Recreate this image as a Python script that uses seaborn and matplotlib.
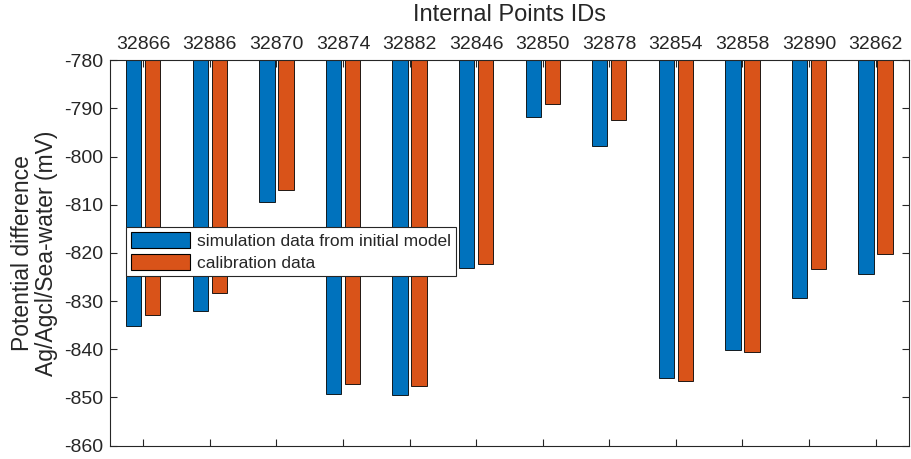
import matplotlib
matplotlib.use("Agg")
import matplotlib.pyplot as plt
import seaborn as sns
import pandas as pd

point_ids = ["32866", "32886", "32870", "32874", "32882", "32846",
             "32850", "32878", "32854", "32858", "32890", "32862"]
simulation = [-835.1, -832.1, -809.4, -849.2, -849.4, -823.2,
              -791.8, -797.8, -846.0, -840.2, -829.3, -824.4]
calibration = [-832.8, -828.3, -807.0, -847.2, -847.6, -822.3,
               -789.1, -792.5, -846.5, -840.6, -823.3, -820.2]
series_names = ["simulation data from initial model", "calibration data"]
colors = ["#0072BD", "#D95319"]
y_ticks = [-780, -790, -800, -810, -820, -830, -840, -850, -860]

df = pd.DataFrame({
    "id": point_ids * 2,
    "value": simulation + calibration,
    "series": [series_names[0]] * len(point_ids) + [series_names[1]] * len(point_ids),
})

sns.set_theme(style="white")
plt.rcParams['font.family'] = ['Liberation Sans', 'DejaVu Sans']
dark = "#262626"

fig = plt.figure(figsize=(9.11, 4.59), dpi=100)
ax = fig.add_axes([0.1207, 0.029, 0.877, 0.840])

sns.barplot(data=df, x="id", y="value", hue="series", order=point_ids,
            hue_order=series_names, palette=colors, saturation=1,
            width=0.57, gap=0.19, edgecolor="black", linewidth=0.6,
            ax=ax, legend=True)

ax.set_xlim(-0.5, len(point_ids) - 0.5)
ax.set_ylim(-860, -780)
ax.set_yticks(y_ticks)
ax.set_yticklabels([str(v) for v in y_ticks])

ax.xaxis.set_label_position('top')
ax.set_xlabel("Internal Points IDs", fontsize=17, color=dark, labelpad=11)
ax.set_ylabel("Potential difference\nAg/Agcl/Sea-water (mV)", fontsize=16.5,
              color=dark, labelpad=4, linespacing=1.05)

ax.tick_params(axis='x', which='both', top=True, bottom=True, labeltop=True,
               labelbottom=False, direction='in', length=5, width=0.8,
               color=dark, labelcolor=dark, labelsize=14, pad=5)
ax.tick_params(axis='y', which='both', left=True, right=True, direction='in',
               length=5, width=0.8, color=dark, labelcolor=dark, labelsize=14, pad=5)

for s in ax.spines.values():
    s.set_visible(True)
    s.set_color(dark)
    s.set_linewidth(0.8)

leg = ax.legend(loc="upper left", bbox_to_anchor=(0.02, 0.567), fontsize=12.5,
                frameon=True, fancybox=False, framealpha=1, edgecolor=dark,
                handlelength=3.4, handleheight=1.05, borderpad=0.3,
                labelspacing=0.25, handletextpad=0.4, borderaxespad=0)
leg.get_frame().set_linewidth(0.8)
for h in leg.legend_handles:
    h.set_edgecolor("black")
    h.set_linewidth(0.8)

fig.savefig("out.png", dpi=100)
